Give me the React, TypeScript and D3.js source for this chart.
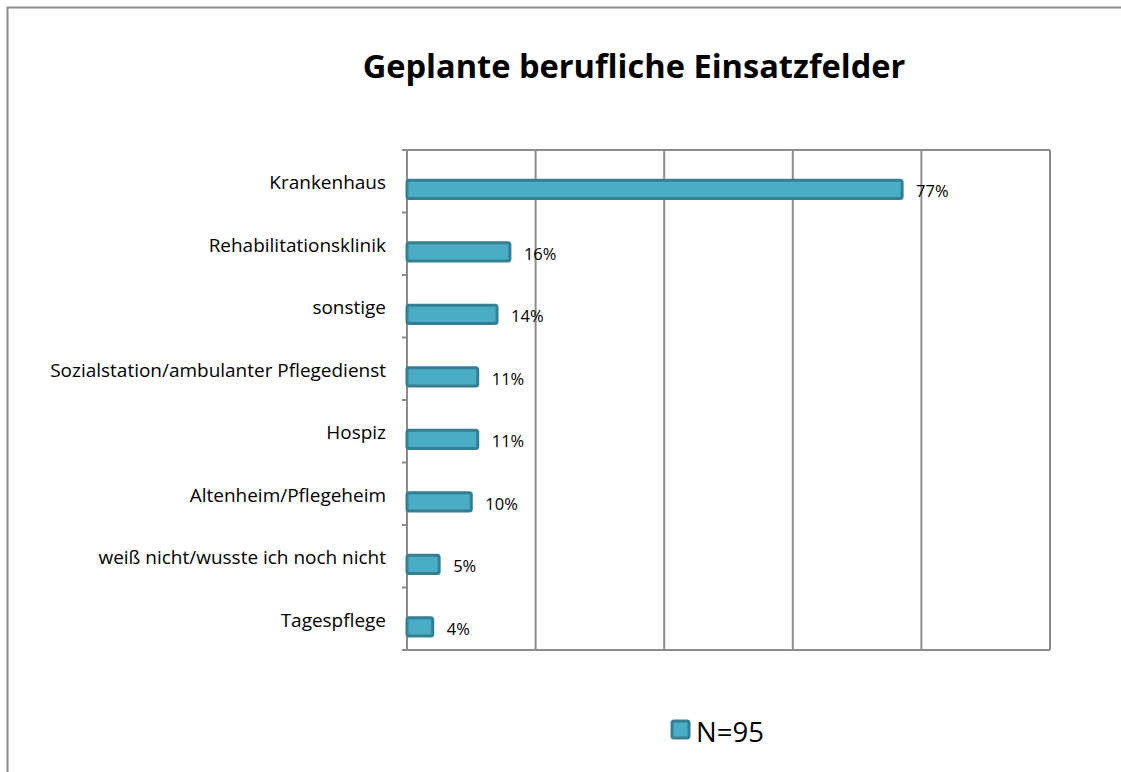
import React, { useRef, useEffect } from 'react'
import * as d3 from 'd3'

const categories = [
  'Krankenhaus',
  'Rehabilitationsklinik',
  'sonstige',
  'Sozialstation/ambulanter Pflegedienst',
  'Hospiz',
  'Altenheim/Pflegeheim',
  'weiß nicht/wusste ich noch nicht',
  'Tagespflege',
]
const values = [77, 16, 14, 11, 11, 10, 5, 4]
const xTicks = [0, 20, 40, 60, 80, 100]
const seriesName = 'N=95'

export default function App() {
  const svgRef = useRef<SVGSVGElement>(null)

  useEffect(() => {
    const w = 1121
    const h = 772
    const svg = d3.select(svgRef.current)
      .attr('width', w)
      .attr('height', h)
      .style('font-family', '"Open Sans", sans-serif')
    svg.selectAll('*').remove()

    // outer frame
    svg.append('path')
      .attr('d', `M7.5,${h + 5} L7.5,7.5 L${w + 5},7.5`)
      .attr('fill', 'none')
      .attr('stroke', '#8c8c8c')
      .attr('stroke-width', 2)

    const title = svg.append('text')
      .attr('x', 634)
      .attr('y', 78)
      .attr('text-anchor', 'middle')
      .style('font-size', '32px')
      .style('font-weight', 'bold')
      .text('Geplante berufliche Einsatzfelder')
    // fit the title to the reference width
    const tw = (title.node() as SVGTextElement).getComputedTextLength()
    title.style('font-size', `${32 * 543 / tw}px`)

    const left = 407, right = 1050, top = 150, bottom = 650

    const x = d3.scaleLinear().domain([0, 100]).range([left, right])
    const y = d3.scaleBand().domain(categories).range([top, bottom])

    // grid
    svg.append('g')
      .selectAll('line')
      .data(xTicks.slice(1))
      .join('line')
        .attr('x1', d => x(d)).attr('x2', d => x(d))
        .attr('y1', top).attr('y2', bottom)
        .attr('stroke', '#8c8c8c').attr('stroke-width', 2)

    svg.append('line')
      .attr('x1', left).attr('x2', right)
      .attr('y1', top).attr('y2', top)
      .attr('stroke', '#8c8c8c').attr('stroke-width', 2)

    svg.append('line')
      .attr('x1', left - 5).attr('x2', right)
      .attr('y1', bottom).attr('y2', bottom)
      .attr('stroke', '#8c8c8c').attr('stroke-width', 2)

    svg.append('line')
      .attr('x1', left).attr('x2', left)
      .attr('y1', top).attr('y2', bottom)
      .attr('stroke', '#8c8c8c').attr('stroke-width', 2)

    // y ticks at band edges
    const edges = categories.map(c => y(c)!).concat([bottom])
    svg.append('g')
      .selectAll('line')
      .data(edges)
      .join('line')
        .attr('x1', left - 5).attr('x2', left)
        .attr('y1', d => d).attr('y2', d => d)
        .attr('stroke', '#8c8c8c').attr('stroke-width', 2)

    const bw = y.bandwidth()
    const barH = bw * 0.29
    const barOff = bw * 0.485

    svg.append('g')
      .selectAll('rect')
      .data(values)
      .join('rect')
        .attr('x', x(0))
        .attr('y', (d, i) => y(categories[i])! + barOff)
        .attr('width', d => x(d) - x(0))
        .attr('height', barH)
        .attr('rx', 2)
        .attr('fill', '#4bacc6')
        .attr('stroke', '#357f93')
        .attr('stroke-width', 3)

    svg.append('g')
      .selectAll('text')
      .data(values)
      .join('text')
        .attr('x', d => x(d) + 14)
        .attr('y', (d, i) => y(categories[i])! + barOff + barH / 2 + 8)
        .style('font-size', '16.5px')
        .text(d => d + '%')

    const labels = svg.append('g')
      .selectAll('text')
      .data(categories)
      .join('text')
        .attr('x', 386)
        .attr('y', c => y(c)! + bw / 2 + 8)
        .attr('text-anchor', 'end')
        .style('font-size', '17px')
        .text(c => c)
    // scale labels so the longest one matches the reference width (336px)
    const lw = (labels.nodes()[3] as SVGTextElement).getComputedTextLength()
    labels.style('font-size', `${17 * 336 / lw}px`)

    // legend
    svg.append('rect')
      .attr('x', 672).attr('y', 721)
      .attr('width', 17).attr('height', 17)
      .attr('rx', 2)
      .attr('fill', '#4bacc6')
      .attr('stroke', '#357f93')
      .attr('stroke-width', 3)
    svg.append('text')
      .attr('x', 696).attr('y', 742)
      .style('font-size', '27.5px')
      .text(seriesName)
  }, [])

  return (
    <div style={{ position: 'absolute', left: 0, top: 0 }}>
      <svg ref={svgRef}></svg>
    </div>
  )
}
